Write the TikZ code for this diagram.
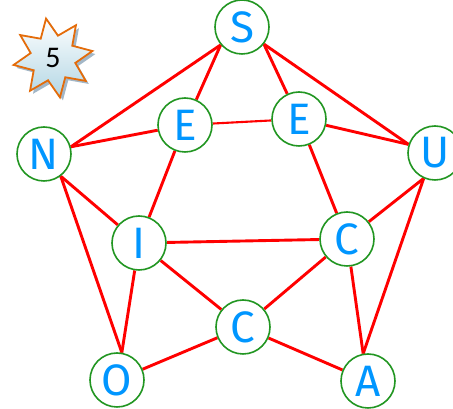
\documentclass[tikz,border=0pt]{standalone}
\usepackage{fontspec}
\setmainfont{Fira Sans}
\newfontfamily\digitfont{Carlito}
\usetikzlibrary{shapes.geometric,shadows,backgrounds}
\definecolor{letterblue}{RGB}{0,150,255}
\definecolor{ringgreen}{RGB}{34,150,34}
\definecolor{badgeorange}{RGB}{228,108,10}
\definecolor{badgeblue}{RGB}{178,214,228}
\definecolor{shadowblue}{RGB}{140,165,185}
\begin{document}
\begin{tikzpicture}[
    x=1pt, y=1pt,
    letter/.style={circle, draw=ringgreen, line width=1.6pt, fill=white, minimum size=54pt, inner sep=0pt, text=letterblue, font=\fontsize{44}{44}\selectfont},
    edge/.style={draw=red, line width=2.9pt},
    edgethin/.style={draw=red, line width=2.1pt},
    badge/.style={star, star points=8, star point ratio=1.75, minimum size=80pt, inner sep=0pt, shape border rotate=10, draw=badgeorange, line width=1.8pt, top color=white, bottom color=badgeblue, drop shadow={shadow xshift=3pt, shadow yshift=-3pt, fill=shadowblue, opacity=0.8}, font=\digitfont\fontsize{30}{30}\selectfont}
]
\useasboundingbox (0,0) rectangle (453,409);
% badge
\node[badge] (num) at (53,351) {5};
% letters
\node[letter] (s) at (242,382) {S};
\node[letter] (e1) at (185,284) {E};
\node[letter] (e2) at (299,290) {E};
\node[letter] (n) at (44,255) {N};
\node[letter] (u) at (435,256) {U};
\node[letter] (i) at (139,166) {I};
\node[letter] (c1) at (347,170) {C};
\node[letter] (c2) at (243,82) {C};
\node[letter] (o) at (117,29) {O};
\node[letter] (a) at (368,28) {A};
% connectors
\begin{scope}[on background layer]
    \draw[edge] (s.220) -- (n.15);
    \draw[edge] (s.220) -- (e1);
    \draw[edge] (s.322) -- (e2);
    \draw[edge] (s.322) -- (u.162);
    \draw[edgethin] (e1) -- (e2);
    \draw[edge] (e1) -- (n.15);
    \draw[edge] (e1) -- (i);
    \draw[edge] (e2) -- (u.162);
    \draw[edge] (e2) -- (c1);
    \draw[edge] (n.307) -- (i);
    \draw[edge] (n.307) -- (o.80);
    \draw[edge] (i) -- (c1);
    \draw[edge] (i) -- (o.80);
    \draw[edge] (i) -- (c2);
    \draw[edge] (c2) -- (c1);
    \draw[edge] (c2) -- (o);
    \draw[edge] (c2) -- (a);
    \draw[edge] (c1) -- (u.246);
    \draw[edge] (c1) -- (a.100);
    \draw[edge] (u.246) -- (a.100);
\end{scope}
\end{tikzpicture}
\end{document}
